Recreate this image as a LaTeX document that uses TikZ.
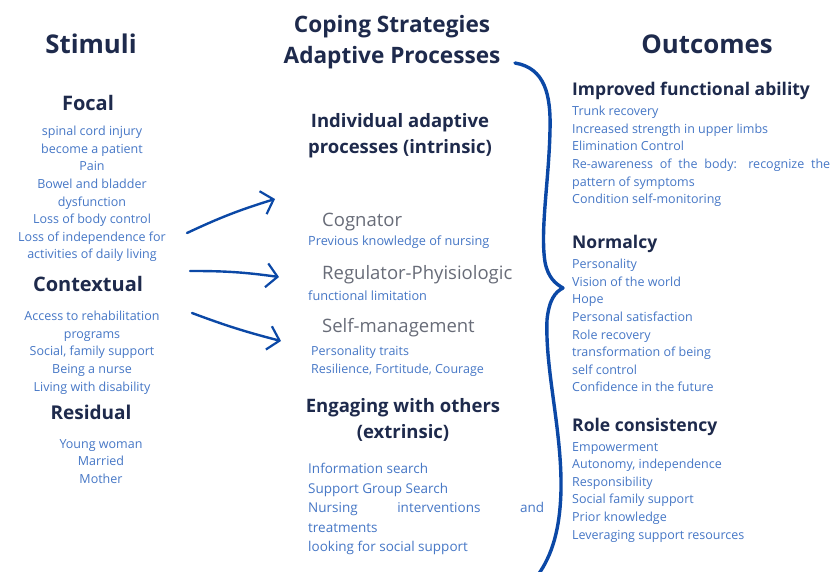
\documentclass[tikz,border=0pt]{standalone}
\usepackage{fontspec}
\setmainfont{Open Sans}
\usetikzlibrary{arrows.meta,positioning}

\definecolor{navy}{HTML}{1E2A4C}
\definecolor{itemblue}{HTML}{4677C6}
\definecolor{softgrey}{HTML}{686C78}
\definecolor{penblue}{HTML}{0B48A6}

\tikzset{
  heading/.style={font=\bfseries\fontsize{25.8}{30}\selectfont, text=navy, inner sep=0pt},
  subhead/.style={font=\bfseries\fontsize{20}{24}\selectfont, text=navy, inner sep=0pt},
  midhead/.style={font=\bfseries\fontsize{18.5}{26}\selectfont, text=navy, inner sep=0pt, align=center},
  outhead/.style={font=\bfseries\fontsize{17.5}{21}\selectfont, text=navy, inner sep=0pt, anchor=west},
  process/.style={font=\fontsize{18.5}{22}\selectfont, text=softgrey, inner sep=0pt, anchor=west},
  items/.style={font=\fontsize{12.5}{17.6}\selectfont, text=itemblue, inner sep=0pt},
  pen/.style={draw=penblue, line width=2.4pt, line cap=round,
    -{Straight Barb[length=11pt,width=24pt,line width=2.2pt]}},
}

\begin{document}
\begin{tikzpicture}[x=1pt,y=-1pt]
\useasboundingbox[fill=white] (0,0) rectangle (833,571);

% stimuli
\node[heading] (stimuli) at (91,44) {Stimuli};
\node[subhead] (focal) at (88,103) {Focal};
\node[items, align=center, anchor=north] (focalitems) at (92,126) {spinal cord injury\\become a patient\\Pain\\Bowel and bladder\\dysfunction\\Loss of body control\\Loss of independence for\\activities of daily living};
\node[subhead] (context) at (88,284) {Contextual};
\node[items, align=center, anchor=north] (contextitems) at (92,311) {Access to rehabilitation\\programs\\Social, family support\\Being a nurse\\Living with disability};
\node[subhead, font=\bfseries\fontsize{19}{23}\selectfont] (residual) at (91,412) {Residual};
\node[items, align=center, anchor=north] (residualitems) at (101,439) {Young woman\\Married\\Mother};

% adaptive processes
\node[heading, font=\bfseries\fontsize{22.6}{31}\selectfont, align=center] (coping) at (392,42) {Coping Strategies\\Adaptive Processes};
\node[midhead] (intrinsic) at (400,136) {Individual adaptive\\processes (intrinsic)};
\node[process] (cognator) at (322,222) {Cognator};
\node[items, anchor=west, font=\fontsize{12.7}{16}\selectfont] (cognitems) at (308,242) {Previous knowledge of nursing};
\node[process] (regulator) at (322,275) {Regulator-Phyisiologic};
\node[items, anchor=west, font=\fontsize{12.7}{16}\selectfont] (regitems) at (308,296) {functional limitation};
\node[process] (selfman) at (322,328) {Self-management};
\node[items, anchor=north west, align=left] (selfitems) at (311,346) {Personality traits\\Resilience, Fortitude, Courage};
\node[midhead] (extrinsic) at (403,420) {Engaging with others\\(extrinsic)};
\node[items, anchor=north west, text width=236pt, align=justify,
  font=\fontsize{13.5}{19.6}\selectfont] (extitems) at (308,463)
  {Information search\par Support Group Search\par Nursing interventions and\linebreak treatments\par looking for social support};

% outcomes
\node[heading] (outcomes) at (707,44) {Outcomes};
\node[outhead] (improved) at (572,91) {Improved functional ability};
\node[items, anchor=north west, text width=258pt, align=justify] (improveditems) at (572,106)
  {Trunk recovery\par Increased strength in upper limbs\par Elimination Control\par Re-awareness of the body: recognize the\linebreak pattern of symptoms\par Condition self-monitoring};
\node[outhead] (normalcy) at (572,244) {Normalcy};
\node[items, anchor=north west, align=left] (normalitems) at (572,259)
  {Personality\\Vision of the world\\Hope\\Personal satisfaction\\Role recovery\\transformation of being\\self control\\Confidence in the future};
\node[outhead] (role) at (572,427) {Role consistency};
\node[items, anchor=north west, align=left] (roleitems) at (572,442)
  {Empowerment\\Autonomy, independence\\Responsibility\\Social family support\\Prior knowledge\\Leveraging support resources};

% arrows
\coordinate (f1) at (187,233);
\coordinate (t1) at (275,199);
\coordinate (f2) at (190,271);
\coordinate (t2) at (279,277);
\coordinate (f3) at (192,313);
\coordinate (t3) at (281,341);
\draw[pen] (f1) to[bend left=4] (t1);
\draw[pen] (f2) to[bend left=4] (t2);
\draw[pen] (f3) to[bend right=3] (t3);

% brace
\draw[penblue, line width=3.4pt, line cap=round, line join=round]
  (515,63) .. controls (545,68) and (551,95) .. (550,130)
  .. controls (549,180) and (540,230) .. (545,262)
  .. controls (548,278) and (556,284) .. (563,288)
  .. controls (555,292) and (549,300) .. (547,320)
  .. controls (545,370) and (562,430) .. (561,490)
  .. controls (560,530) and (552,555) .. (538,575);
\end{tikzpicture}
\end{document}
